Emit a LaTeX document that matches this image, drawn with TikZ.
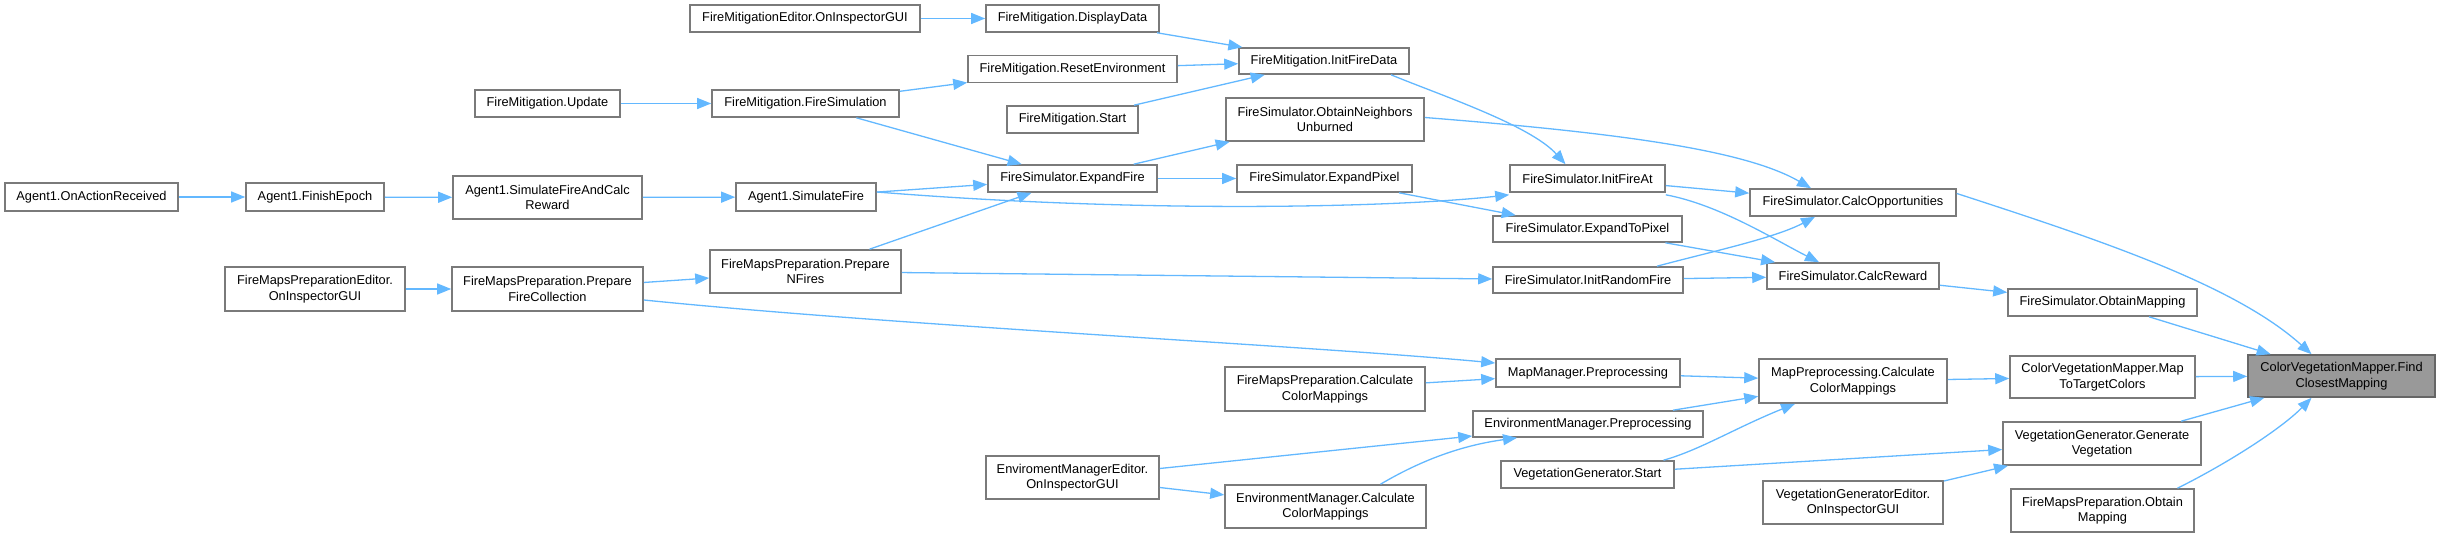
\documentclass[tikz,border=0pt]{standalone}
\usepackage{fontspec}
\setmainfont{Liberation Sans}
\usetikzlibrary{arrows.meta}
\definecolor{edgecol}{HTML}{63B8FF}
\definecolor{bordercol}{HTML}{7A7A7A}
\definecolor{mainfill}{HTML}{999999}
\definecolor{mainborder}{HTML}{666666}
\tikzset{
  box/.style={draw=bordercol, line width=1.6pt, fill=white, inner sep=0pt, align=center,
    font=\fontsize{12.8pt}{15.5pt}\selectfont},
  mainbox/.style={box, draw=mainborder, fill=mainfill},
  edge/.style={draw=edgecol, line width=1.3pt, -{Triangle[length=14pt,width=11pt]}},
}
\begin{document}
\begin{tikzpicture}[x=1pt,y=-1pt]
\useasboundingbox (0,0) rectangle (2440,537);
% column 1
\node[box,minimum width=173pt,minimum height=28pt] (aOAR) at (91.5,197) {Agent1.OnActionReceived};
% column 2
\node[box,minimum width=138pt,minimum height=28pt] (aFE) at (315,197) {Agent1.FinishEpoch};
\node[box,minimum width=180pt,minimum height=44pt] (fmpEd) at (315,289) {FireMapsPreparationEditor.\\OnInspectorGUI};
% column 3
\node[box,minimum width=145pt,minimum height=27pt] (fmUp) at (547.5,103.5) {FireMitigation.Update};
\node[box,minimum width=189pt,minimum height=43pt] (aSFCR) at (547.5,197.5) {Agent1.SimulateFireAndCalc\\Reward};
\node[box,minimum width=191pt,minimum height=44pt] (fmpPFC) at (547.5,289) {FireMapsPreparation.Prepare\\FireCollection};
% column 4
\node[box,minimum width=230pt,minimum height=27pt] (fmEd) at (805,18.5) {FireMitigationEditor.OnInspectorGUI};
\node[box,minimum width=187pt,minimum height=27pt] (fmFS) at (805.5,103.5) {FireMitigation.FireSimulation};
\node[box,minimum width=140pt,minimum height=28pt] (aSF) at (806,197) {Agent1.SimulateFire};
\node[box,minimum width=191pt,minimum height=43pt] (fmpPNF) at (805.5,271.5) {FireMapsPreparation.Prepare\\NFires};
% column 5
\node[box,minimum width=173pt,minimum height=27pt] (fmDD) at (1072.5,18.5) {FireMitigation.DisplayData};
\node[box,minimum width=209pt,minimum height=27pt] (fmRE) at (1072.5,69) {FireMitigation.ResetEnvironment};
\node[box,minimum width=131pt,minimum height=27pt] (fmSt) at (1072.5,119.5) {FireMitigation.Start};
\node[box,minimum width=169pt,minimum height=27pt] (fsEF) at (1072.5,178.5) {FireSimulator.ExpandFire};
\node[box,minimum width=173pt,minimum height=43pt] (emEd) at (1072.5,477.5) {EnviromentManagerEditor.\\OnInspectorGUI};
% column 6
\node[box,minimum width=170pt,minimum height=26pt] (fmIFD) at (1324,61) {FireMitigation.InitFireData};
\node[box,minimum width=198pt,minimum height=43pt] (fsONU) at (1325,119.5) {FireSimulator.ObtainNeighbors\\Unburned};
\node[box,minimum width=175pt,minimum height=27pt] (fsEP) at (1324.5,178.5) {FireSimulator.ExpandPixel};
\node[box,minimum width=200pt,minimum height=44pt] (fmpCCM) at (1325,389) {FireMapsPreparation.Calculate\\ColorMappings};
\node[box,minimum width=201pt,minimum height=43pt] (emCCM) at (1325.5,506.5) {EnvironmentManager.Calculate\\ColorMappings};
% column 7
\node[box,minimum width=155pt,minimum height=27pt] (fsIFA) at (1587.5,178.5) {FireSimulator.InitFireAt};
\node[box,minimum width=189pt,minimum height=26pt] (fsETP) at (1587.5,229) {FireSimulator.ExpandToPixel};
\node[box,minimum width=190pt,minimum height=26pt] (fsIRF) at (1588,280) {FireSimulator.InitRandomFire};
\node[box,minimum width=184pt,minimum height=28pt] (mmP) at (1588,373) {MapManager.Preprocessing};
\node[box,minimum width=230pt,minimum height=26pt] (emP) at (1588,424) {EnvironmentManager.Preprocessing};
\node[box,minimum width=173pt,minimum height=27pt] (vgS) at (1587.5,474.5) {VegetationGenerator.Start};
% column 8
\node[box,minimum width=206pt,minimum height=27pt] (fsCO) at (1853,202.5) {FireSimulator.CalcOpportunities};
\node[box,minimum width=172pt,minimum height=26pt] (fsCR) at (1853,276) {FireSimulator.CalcReward};
\node[box,minimum width=188pt,minimum height=44pt] (mpCCM) at (1853,381) {MapPreprocessing.Calculate\\ColorMappings};
\node[box,minimum width=180pt,minimum height=43pt] (vgEd) at (1853,502.5) {VegetationGeneratorEditor.\\OnInspectorGUI};
% column 9
\node[box,minimum width=189pt,minimum height=27pt] (fsOM) at (2102.5,302.5) {FireSimulator.ObtainMapping};
\node[box,minimum width=185pt,minimum height=42pt] (cvmM) at (2102.5,377) {ColorVegetationMapper.Map\\ToTargetColors};
\node[box,minimum width=198pt,minimum height=43pt] (vgGV) at (2102,443.5) {VegetationGenerator.Generate\\Vegetation};
\node[box,minimum width=183pt,minimum height=43pt] (fmpOM) at (2102.5,510.5) {FireMapsPreparation.Obtain\\Mapping};
% column 10
\node[mainbox,minimum width=187pt,minimum height=42pt] (cvmF) at (2341.5,376) {ColorVegetationMapper.Find\\ClosestMapping};

% edges
\draw[edge] (fmEd) -- (fmDD);
\draw[edge] (fmDD) -- (fmIFD);
\draw[edge] (fmRE) -- (fmIFD);
\draw[edge] (fmSt) -- (fmIFD);
\draw[edge] (fmUp) -- (fmFS);
\draw[edge] (fmFS) -- (fmRE);
\draw[edge] (fmFS) -- (fsEF);
\draw[edge] (aOAR) -- (aFE);
\draw[edge] (aFE) -- (aSFCR);
\draw[edge] (aSFCR) -- (aSF);
\draw[edge] (aSF) -- (fsEF);
\draw[edge] ([yshift=5pt]aSF.east) .. controls (1150,214) and (1400,207) .. ([yshift=-2pt]fsIFA.south west);
\draw[edge] (fmpPNF) -- (fsEF);
\draw[edge] (fsEF) -- (fsONU);
\draw[edge] (fsEF) -- (fsEP);
\draw[edge] ([xshift=67pt]fmIFD.south) .. controls (1440,95) and (1530,125) .. ([xshift=-22pt]fsIFA.north);
\draw[edge] ([yshift=2pt]fsONU.east) .. controls (1620,133) and (1745,150) .. ([xshift=-42pt]fsCO.north);
\draw[edge] (fsIFA) -- (fsCO);
\draw[edge] ([yshift=-2pt]fsIFA.south east) .. controls (1720,205) and (1775,240) .. ([xshift=-34pt]fsCR.north);
\draw[edge] (fsEP) -- (fsETP);
\draw[edge] (fsETP) -- (fsCR);
\draw[edge] ([xshift=69pt]fsIRF.north) .. controls (1710,252) and (1775,238) .. ([xshift=-38pt]fsCO.south);
\draw[edge] (fsIRF) -- (fsCR);
\draw[edge] (fmpPNF) -- (fsIRF);
\draw[edge] (fmpEd) -- (fmpPFC);
\draw[edge] (fmpPFC) -- (fmpPNF);
\draw[edge] ([yshift=-11pt]fmpPFC.east) .. controls (900,326) and (1300,345) .. ([yshift=10pt]mmP.west);
\draw[edge] ([yshift=9pt]fsCO.east) .. controls (2100,240) and (2235,285) .. ([xshift=-30pt]cvmF.north);
\draw[edge] (fsCR) -- (fsOM);
\draw[edge] (fsOM) -- (cvmF);
\draw[edge] (fmpCCM) -- (mmP);
\draw[edge] (mmP) -- (mpCCM);
\draw[edge] (emP) -- (mpCCM);
\draw[edge] ([xshift=76pt]vgS.north) .. controls (1700,450) and (1735,428) .. ([xshift=-58pt]mpCCM.south);
\draw[edge] (mpCCM) -- (cvmM);
\draw[edge] (cvmM) -- (cvmF);
\draw[edge] (emEd) -- (emP);
\draw[edge] (emEd) -- (emCCM);
\draw[edge] ([xshift=55pt]emCCM.north) .. controls (1425,458) and (1465,445) .. ([xshift=-71pt]emP.south);
\draw[edge] (vgS) -- (vgGV);
\draw[edge] (vgEd) -- (vgGV);
\draw[edge] (vgGV) -- (cvmF);
\draw[edge] ([xshift=75pt]fmpOM.north) .. controls (2230,462) and (2282,428) .. ([xshift=-30pt]cvmF.south);
\end{tikzpicture}
\end{document}
